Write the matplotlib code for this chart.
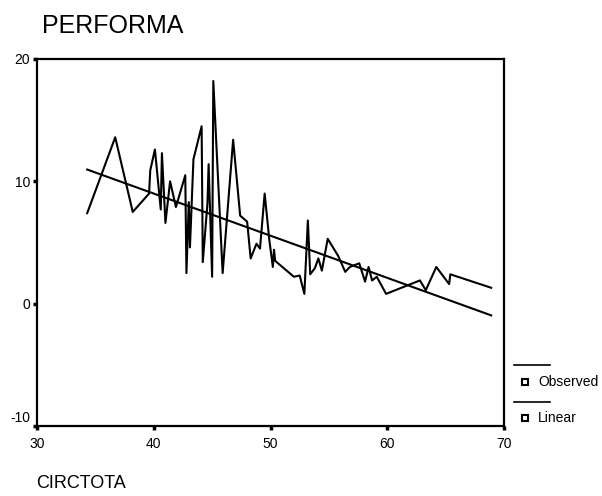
import matplotlib
matplotlib.use("Agg")
import matplotlib.pyplot as plt
from matplotlib.lines import Line2D
import numpy as np

# ---------- data ----------
circtota = [34.3, 36.7, 38.2, 39.6, 39.7, 40.1, 40.6, 40.7, 41.0, 41.4,
            41.9, 42.7, 42.8, 43.0, 43.1, 43.4, 44.1, 44.2, 44.6, 44.7,
            45.0, 45.1, 45.9, 46.8, 47.4, 48.0, 48.3, 48.8, 49.1, 49.5,
            49.9, 50.2, 50.3, 50.4, 52.0, 52.5, 52.9, 53.2, 53.4, 53.8,
            54.1, 54.4, 54.9, 55.8, 56.4, 56.8, 57.6, 58.1, 58.4, 58.7,
            59.1, 59.9, 62.8, 63.3, 64.2, 65.3, 65.4, 68.9]
performa = [7.4, 13.6, 7.5, 9.0, 10.9, 12.6, 7.7, 12.3, 6.6, 10.0,
            7.9, 10.5, 2.5, 8.3, 4.6, 11.8, 14.5, 3.4, 8.2, 11.4,
            2.2, 18.2, 2.5, 13.4, 7.2, 6.7, 3.7, 4.9, 4.5, 9.0,
            5.2, 3.0, 4.4, 3.5, 2.2, 2.3, 0.8, 6.8, 2.4, 2.9,
            3.7, 2.7, 5.3, 3.9, 2.6, 3.0, 3.3, 1.8, 3.0, 1.9,
            2.2, 0.8, 1.9, 1.1, 3.0, 1.6, 2.4, 1.3]

# linear fit shown in the chart
fit_intercept = 22.78
fit_slope = -0.3445

x_ticks = [30, 40, 50, 60, 70]
y_ticks = [-10, 0, 10, 20]

W, H = 602, 496
plt.rcParams["font.family"] = ["Liberation Sans", "DejaVu Sans"]
fig = plt.figure(figsize=(W / 100, H / 100), dpi=100)

def fx(px):
    return px / W

def fy(py):
    return 1 - py / H

ax = fig.add_axes([fx(37), fy(426), fx(504) - fx(37), fy(59) - fy(426)])

x = np.array(circtota)
fit = fit_intercept + fit_slope * x
ax.plot(x, performa, color="black", lw=1.5)
ax.plot(x, fit, color="black", lw=1.5)

ax.set_xlim(30, 70)
ax.set_ylim(-10, 20)
ax.set_xticks(x_ticks)
ax.set_yticks(y_ticks)
# bottom y label sits a little above its tick, as in the original
ax.set_yticklabels([""] + [str(v) for v in y_ticks[1:]])
ax.annotate(str(y_ticks[0]), xy=(0, y_ticks[0]), xycoords=("axes fraction", "data"),
            xytext=(-5, 6), textcoords="offset points", ha="right", va="center",
            fontsize=10)
ax.tick_params(direction="out", length=3, width=2.5, labelsize=10)
ax.tick_params(axis="x", pad=5)
ax.tick_params(axis="y", pad=2)
for s in ax.spines.values():
    s.set_linewidth(1.6)

fig.text(fx(42), fy(26), "PERFORMA", fontsize=18, va="center", ha="left")
fig.text(fx(36), fy(484), "CIRCTOTA", fontsize=13, va="center", ha="left")

# legend drawn by hand, SPSS style
for ly, ty, label in [(365, 382, "Observed"), (402, 418, "Linear")]:
    fig.add_artist(Line2D([fx(514), fx(550)], [fy(ly), fy(ly)], color="black",
                          lw=1.2, transform=fig.transFigure))
    fig.add_artist(Line2D([fx(525)], [fy(ty)], marker="s", markersize=4.5,
                          mfc="white", mec="black", mew=1.5, ls="none",
                          transform=fig.transFigure))
    fig.text(fx(538), fy(ty), label, fontsize=10, va="center", ha="left")

fig.savefig("out.png", dpi=100)
